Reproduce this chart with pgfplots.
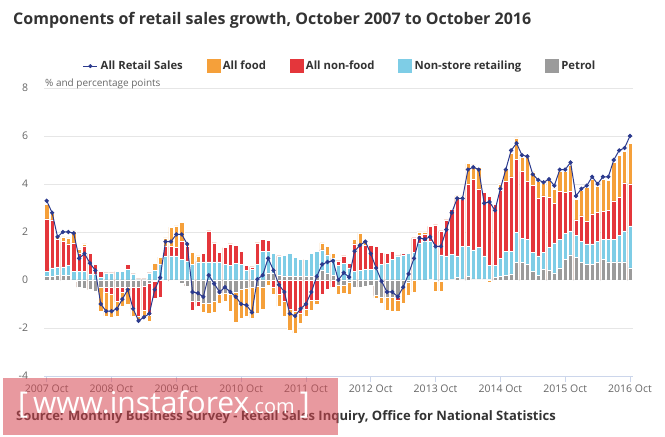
\documentclass[border=0pt]{standalone}
\usepackage{fontspec}
\setmainfont{Open Sans}
\usepackage{pgfplots}
\usepackage{pgfplotstable}
\pgfplotsset{compat=1.18}
\definecolor{cF}{HTML}{F5A03A}
\definecolor{cNF}{HTML}{E4363B}
\definecolor{cN}{HTML}{7ECDE6}
\definecolor{cP}{HTML}{9B9B9B}
\definecolor{cL}{HTML}{2B3A8E}
\definecolor{txt}{HTML}{333333}
\definecolor{tickc}{HTML}{666666}
\definecolor{gridc}{HTML}{E6E6E6}
\definecolor{axl}{HTML}{CCD6EB}

\pgfplotstableread{
m P N NF F T
0 0.15 0.2 2.2 0.6 3.3
1 0.15 0.35 2.0 0.3 2.8
2 0.2 0.35 1.15 0.1 1.8
3 0.2 0.35 1.05 0.2 2.0
4 0.2 0.4 0.9 0.25 2.0
5 -0.05 0.35 1.2 0.5 1.95
6 -0.3 0.35 0.75 0.2 0.9
7 -0.35 0.35 1.05 0.1 1.1
8 -0.4 0.25 0.85 0.0 0.7
9 -0.45 0.25 0.4 0.0 0.4
10 -0.3 0.1 0.25 -1.0 -1.0
11 -0.3 0.3 -0.2 -1.0 -1.3
12 -0.3 0.3 -0.3 -0.95 -1.3
13 -0.3 0.35 -0.6 -0.6 -1.2
14 -0.3 0.35 -0.2 -0.6 -0.8
15 -0.3 0.45 0.2 -0.7 -0.4
16 -0.3 0.25 -0.9 -0.3 -1.2
17 -0.3 0.05 -1.2 -0.25 -1.7
18 -0.25 0.05 -1.0 -0.35 -1.55
19 -0.15 0.3 -1.3 -0.25 -1.4
20 -0.05 0.4 -0.7 0.3 -0.4
21 0.0 0.65 -0.7 0.3 0.1
22 -0.05 1.0 0.4 0.35 1.6
23 -0.05 1.0 0.4 0.8 1.6
24 0.0 1.0 0.35 0.9 1.9
25 -0.15 0.85 0.75 0.8 1.9
26 -0.25 0.8 0.6 0.15 1.5
27 -0.9 0.65 -0.35 0.5 -0.5
28 -0.9 0.75 -0.2 0.25 -0.55
29 -0.95 0.75 0.35 -0.4 -0.7
30 -0.95 0.75 1.3 -0.45 0.2
31 -0.9 0.75 0.8 -0.45 -0.15
32 -0.6 0.75 0.4 -0.35 -0.5
33 -0.55 0.65 0.7 -0.35 -0.3
34 -0.6 0.6 0.9 -0.7 -0.5
35 -0.5 0.7 0.75 -1.25 -0.7
36 -0.4 0.65 0.55 -1.2 -1.0
37 -0.35 0.4 0.2 -1.15 -1.05
38 -0.3 0.45 0.1 -1.3 -1.35
39 -0.25 0.65 0.9 -1.15 0.03
40 -0.3 1.2 0.5 -0.9 0.2
41 0.3 0.9 0.45 -0.2 0.9
42 0.3 0.8 -0.3 -0.3 0.4
43 0.2 0.8 -0.6 -0.5 -0.2
44 0.17 0.85 -0.9 -0.6 -0.5
45 0.15 0.95 -1.2 -0.9 -1.4
46 0.15 0.8 -1.3 -0.9 -1.5
47 0.15 0.7 -1.4 -0.4 -1.2
48 0.15 0.7 -1.2 -0.3 -1.0
49 0.15 0.95 -0.85 -0.4 -0.5
50 0.15 1.05 -0.85 -0.15 0.15
51 0.4 0.85 -0.6 0.3 0.65
52 0.3 0.75 -0.4 0.35 0.75
53 0.2 0.7 -0.3 0.2 0.8
54 -0.2 0.6 0.2 -0.4 0.0
55 -0.2 0.7 0.3 -0.35 0.3
56 -0.1 0.5 0.2 -0.5 0.12
57 -0.3 0.35 1.15 0.2 1.2
58 -0.3 0.4 1.05 0.5 1.45
59 -0.25 0.45 1.0 0.2 1.6
60 -0.2 0.45 1.0 0.0 1.1
61 -0.65 0.45 0.95 -0.1 0.5
62 -0.7 0.65 0.5 -0.25 -0.05
63 -0.7 0.7 0.4 -0.55 -0.5
64 -0.7 0.85 0.35 -0.6 -0.5
65 -0.7 1.0 -0.15 -0.45 -0.7
66 -0.3 1.05 0.05 -0.65 -0.3
67 -0.1 1.1 0.0 -0.55 0.25
68 0.0 1.15 0.6 -0.5 0.9
69 0.0 1.55 0.3 0.15 1.75
70 0.0 1.6 0.3 0.1 1.7
71 0.03 1.6 0.6 0.0 1.8
72 -0.05 1.4 0.9 -0.4 1.4
73 -0.05 1.05 1.0 -0.4 1.4
74 0.0 1.0 1.5 0.0 2.1
75 0.03 1.05 1.85 0.05 2.8
76 0.1 0.9 2.4 0.1 3.4
77 0.05 1.35 1.95 0.15 3.4
78 0.15 1.25 2.6 0.85 4.6
79 0.05 1.2 2.95 0.6 4.7
80 0.05 1.3 2.45 0.9 4.6
81 0.05 0.95 2.65 -0.05 3.2
82 0.02 0.6 2.85 -0.1 3.25
83 0.1 0.5 2.55 0.0 2.9
84 0.15 0.75 2.85 0.25 3.8
85 0.2 1.0 2.9 0.55 4.6
86 0.25 0.95 3.1 1.0 5.4
87 0.72 1.25 3.05 0.9 5.7
88 0.72 1.0 2.8 0.6 5.2
89 0.65 1.05 2.4 1.0 5.15
90 0.35 0.8 2.8 0.55 4.4
91 0.2 0.8 2.4 0.7 4.17
92 0.45 0.7 2.35 0.55 4.07
93 0.4 0.95 2.1 0.7 4.2
94 0.3 1.25 1.65 0.6 3.93
95 0.5 1.2 2.0 0.85 4.6
96 0.85 1.1 1.7 0.9 4.6
97 1.05 1.0 1.65 1.1 4.9
98 0.95 0.9 0.65 0.85 3.5
99 0.72 0.9 1.05 1.05 3.8
100 0.65 0.85 0.95 1.4 3.93
101 0.65 0.85 1.25 1.45 4.3
102 0.72 0.9 1.2 1.1 4.0
103 0.85 0.85 1.15 1.35 4.3
104 0.75 0.95 1.2 1.25 4.3
105 0.75 0.95 1.6 1.6 5.0
106 0.75 1.1 1.6 1.75 5.4
107 0.75 1.3 2.0 1.3 5.5
108 0.5 1.75 1.75 1.7 6.0
}\data

\begin{document}
\begin{tikzpicture}
\useasboundingbox (0,0) rectangle (665bp,437bp);
\begin{axis}[
  at={(44.3bp,61bp)}, anchor=south west, scale only axis,
  width=588.9bp, height=288bp,
  xmin=-0.45, xmax=108.6, ymin=-4, ymax=8,
  ytick={-4,-2,0,2,4,6,8}, yticklabels={-4,-2,0,2,4,6,8},
  xtick={0,12,24,36,48,60,72,84,96,108},
  xticklabels={2007 Oct,2008 Oct,2009 Oct,2010 Oct,2011 Oct,2012 Oct,2013 Oct,2014 Oct,2015 Oct,2016 Oct},
  ymajorgrids, grid style={draw=gridc, line width=0.8bp},
  axis line style={draw=none},
  ytick style={draw=none},
  xtick style={draw=axl, line width=0.8bp},
  xtick pos=left, tick align=outside, major tick length=6bp,
  tick label style={font=\fontsize{10.5bp}{12bp}\selectfont, text=tickc},
  yticklabel style={anchor=east, inner sep=0pt, xshift=-10bp},
  xticklabel style={anchor=north, inner sep=0pt, yshift=-3bp},
  bar width=0.8,
  legend style={at={(axis description cs:0.503,1.076)}, anchor=center,
    draw=none, fill=none, legend columns=5,
    font=\fontsize{11.3bp}{13bp}\selectfont\bfseries, text=txt,
    /tikz/every even column/.append style={column sep=21bp},
    inner sep=0pt, nodes={inner sep=2.8bp}},
  clip=false,
]
\draw[axl, line width=0.8bp] (axis cs:-0.45,-4) -- (axis cs:108.6,-4);
\pgfplotsset{barst/.style={ybar, bar shift=0pt, draw=white, line width=0.5bp, forget plot}}
% food (outermost)
\addplot[barst, fill=cF] table[x=m, y expr={max(\thisrow{P},0)+max(\thisrow{N},0)+max(\thisrow{NF},0)+max(\thisrow{F},0)}] {\data};
\addplot[barst, fill=cF] table[x=m, y expr={min(\thisrow{P},0)+min(\thisrow{N},0)+min(\thisrow{NF},0)+min(\thisrow{F},0)}] {\data};
% non-food
\addplot[barst, fill=cNF] table[x=m, y expr={max(\thisrow{P},0)+max(\thisrow{N},0)+max(\thisrow{NF},0)}] {\data};
\addplot[barst, fill=cNF] table[x=m, y expr={min(\thisrow{P},0)+min(\thisrow{N},0)+min(\thisrow{NF},0)}] {\data};
% non-store
\addplot[barst, fill=cN] table[x=m, y expr={max(\thisrow{P},0)+max(\thisrow{N},0)}] {\data};
\addplot[barst, fill=cN] table[x=m, y expr={min(\thisrow{P},0)+min(\thisrow{N},0)}] {\data};
% petrol
\addplot[barst, fill=cP] table[x=m, y expr={max(\thisrow{P},0)}] {\data};
\addplot[barst, fill=cP] table[x=m, y expr={min(\thisrow{P},0)}] {\data};
% all retail sales
\addplot[cL, line width=1bp, mark=*, mark size=1.6bp, mark options={fill=cL, draw=cL}, forget plot] table[x=m, y=T] {\data};

\addlegendimage{legend image code/.code={\draw[cL, line width=1.1bp] (0bp,0bp) -- (14bp,0bp); \fill[cL] (7bp,0bp) circle (1.8bp);}}
\addlegendentry{All Retail Sales}
\addlegendimage{legend image code/.code={\fill[cF] (0bp,-6bp) rectangle (13bp,7bp);}}
\addlegendentry{All food}
\addlegendimage{legend image code/.code={\fill[cNF] (0bp,-6bp) rectangle (13bp,7bp);}}
\addlegendentry{All non-food}
\addlegendimage{legend image code/.code={\fill[cN] (0bp,-6bp) rectangle (13bp,7bp);}}
\addlegendentry{Non-store retailing}
\addlegendimage{legend image code/.code={\fill[cP] (0bp,-6bp) rectangle (13bp,7bp);}}
\addlegendentry{Petrol}
\end{axis}
\node[anchor=base west, inner sep=0pt, text=txt, font=\fontsize{16bp}{19bp}\selectfont\bfseries] at (13bp,412bp) {Components of retail sales growth, October 2007 to October 2016};
\node[anchor=base west, inner sep=0pt, text=tickc, font=\fontsize{10bp}{12bp}\selectfont] at (45bp,350bp) {\% and percentage points};
\node[anchor=base west, inner sep=0pt, text=txt, font=\fontsize{13bp}{15bp}\selectfont\bfseries] at (16bp,17bp) {Source: Monthly Business Survey - Retail Sales Inquiry, Office for National Statistics};
\fill[fill={rgb,255:red,214;green,70;blue,80}, fill opacity=0.55] (3bp,2bp) rectangle (338bp,59bp);
\node[anchor=base west, inner sep=0pt, text=white, font=\fontsize{30bp}{30bp}\selectfont] at (18bp,24bp) {[\,www.instaforex{\fontsize{20bp}{20bp}\selectfont.com}\,]};
\end{tikzpicture}
\end{document}
